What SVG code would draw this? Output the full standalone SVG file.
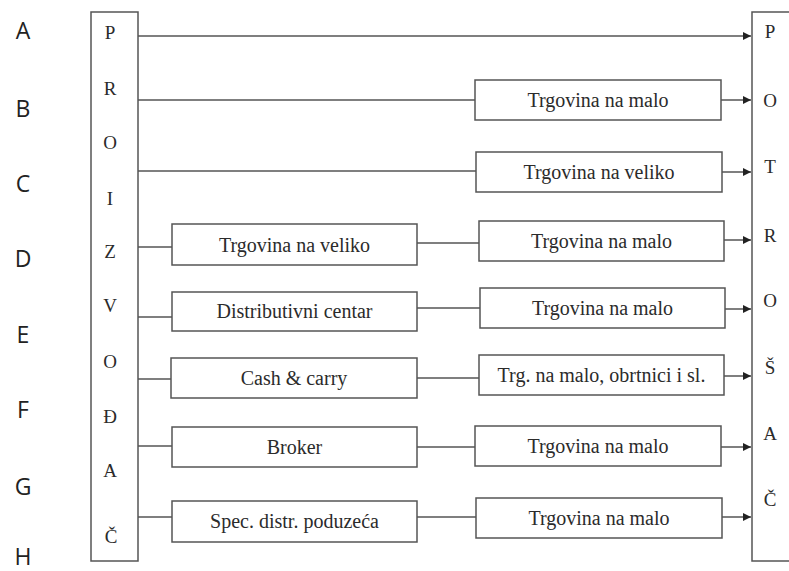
<svg xmlns="http://www.w3.org/2000/svg" width="789" height="571" viewBox="0 0 789 571">
<style>
.bg{fill:#ffffff}
.box{fill:#ffffff;stroke:#555555;stroke-width:1.5}
.ln{fill:none;stroke:#555555;stroke-width:1.5}
.t{font-family:"Liberation Serif","Times New Roman",serif;font-size:20px;fill:#2b2b2b;text-anchor:middle}
.v{font-family:"Liberation Serif","Times New Roman",serif;font-size:19px;fill:#2b2b2b;text-anchor:middle}
.lab{font-family:"Open Sans","Liberation Sans",sans-serif;font-size:23px;fill:#222222;text-anchor:middle}
</style>
<defs>
<marker id="arr" viewBox="0 0 10 10" refX="10" refY="5" markerWidth="9" markerHeight="8" markerUnits="userSpaceOnUse" orient="auto">
<path d="M0,0 L10,5 L0,10 z" fill="#222222"/>
</marker>
</defs>
<rect class="bg" x="0" y="0" width="789" height="571"/>

<g id="row-labels">
<text class="lab" x="23" y="39">A</text>
<text class="lab" x="23" y="117">B</text>
<text class="lab" x="23" y="192">C</text>
<text class="lab" x="23" y="267">D</text>
<text class="lab" x="23" y="343">E</text>
<text class="lab" x="23" y="418">F</text>
<text class="lab" x="23" y="495">G</text>
<text class="lab" x="23" y="565">H</text>
</g>

<g id="connectors">
<line class="ln" x1="138" y1="36" x2="751" y2="36" marker-end="url(#arr)"/>
<line class="ln" x1="138" y1="100" x2="475" y2="100"/>
<line class="ln" x1="721" y1="100" x2="751" y2="100" marker-end="url(#arr)"/>
<line class="ln" x1="138" y1="171" x2="476" y2="171"/>
<line class="ln" x1="722" y1="172" x2="751" y2="172" marker-end="url(#arr)"/>
<line class="ln" x1="138" y1="247" x2="172" y2="247"/>
<line class="ln" x1="417" y1="243" x2="479" y2="243"/>
<line class="ln" x1="724" y1="240" x2="751" y2="240" marker-end="url(#arr)"/>
<line class="ln" x1="138" y1="317" x2="172" y2="317"/>
<line class="ln" x1="417" y1="308" x2="480" y2="308"/>
<line class="ln" x1="725" y1="309" x2="751" y2="309" marker-end="url(#arr)"/>
<line class="ln" x1="138" y1="379" x2="171" y2="379"/>
<line class="ln" x1="417" y1="378" x2="479" y2="378"/>
<line class="ln" x1="724" y1="376" x2="751" y2="376" marker-end="url(#arr)"/>
<line class="ln" x1="138" y1="446" x2="172" y2="446"/>
<line class="ln" x1="417" y1="447" x2="475" y2="447"/>
<line class="ln" x1="721" y1="447" x2="751" y2="447" marker-end="url(#arr)"/>
<line class="ln" x1="138" y1="517" x2="172" y2="517"/>
<line class="ln" x1="417" y1="517" x2="476" y2="517"/>
<line class="ln" x1="722" y1="517" x2="751" y2="517" marker-end="url(#arr)"/>
</g>

<g id="proizvodac">
<rect class="box" x="91" y="12" width="47" height="549"/>
<text class="v" x="110" y="39">P</text>
<text class="v" x="110" y="95">R</text>
<text class="v" x="110" y="149">O</text>
<text class="v" x="110" y="205">I</text>
<text class="v" x="110" y="258">Z</text>
<text class="v" x="110" y="312">V</text>
<text class="v" x="110" y="368">O</text>
<text class="v" x="110" y="423">Đ</text>
<text class="v" x="110" y="477">A</text>
<text class="v" x="111" y="543">Č</text>
</g>

<g id="potrosac">
<rect class="box" x="752" y="12" width="60" height="549"/>
<text class="v" x="770" y="38">P</text>
<text class="v" x="770" y="107">O</text>
<text class="v" x="770" y="173">T</text>
<text class="v" x="770" y="242">R</text>
<text class="v" x="770" y="307">O</text>
<text class="v" x="770" y="374">Š</text>
<text class="v" x="770" y="440">A</text>
<text class="v" x="770" y="506">Č</text>
</g>

<g id="b-malo">
<rect class="box" x="475" y="80" width="246" height="40"/>
<text class="t" x="598" y="107">Trgovina na malo</text>
</g>
<g id="c-veliko">
<rect class="box" x="476" y="152" width="246" height="40"/>
<text class="t" x="599" y="179">Trgovina na veliko</text>
</g>
<g id="d-veliko">
<rect class="box" x="172" y="224" width="245" height="41"/>
<text class="t" x="294.5" y="252">Trgovina na veliko</text>
</g>
<g id="d-malo">
<rect class="box" x="479" y="221" width="245" height="40"/>
<text class="t" x="601.5" y="248">Trgovina na malo</text>
</g>
<g id="e-distr">
<rect class="box" x="172" y="292" width="245" height="39"/>
<text class="t" x="294.5" y="318">Distributivni centar</text>
</g>
<g id="e-malo">
<rect class="box" x="480" y="288" width="245" height="40"/>
<text class="t" x="602.5" y="315">Trgovina na malo</text>
</g>
<g id="f-cash">
<rect class="box" x="171" y="358" width="246" height="40"/>
<text class="t" x="294" y="385">Cash &amp; carry</text>
</g>
<g id="f-trg">
<rect class="box" x="479" y="355" width="245" height="40"/>
<text class="t" x="601.5" y="382">Trg. na malo, obrtnici i sl.</text>
</g>
<g id="g-broker">
<rect class="box" x="172" y="427" width="245" height="40"/>
<text class="t" x="294.5" y="454">Broker</text>
</g>
<g id="g-malo">
<rect class="box" x="475" y="426" width="246" height="40"/>
<text class="t" x="598" y="453">Trgovina na malo</text>
</g>
<g id="h-spec">
<rect class="box" x="172" y="501" width="245" height="41"/>
<text class="t" x="294.5" y="528">Spec. distr. poduzeća</text>
</g>
<g id="h-malo">
<rect class="box" x="476" y="498" width="246" height="40"/>
<text class="t" x="599" y="525">Trgovina na malo</text>
</g>
</svg>
